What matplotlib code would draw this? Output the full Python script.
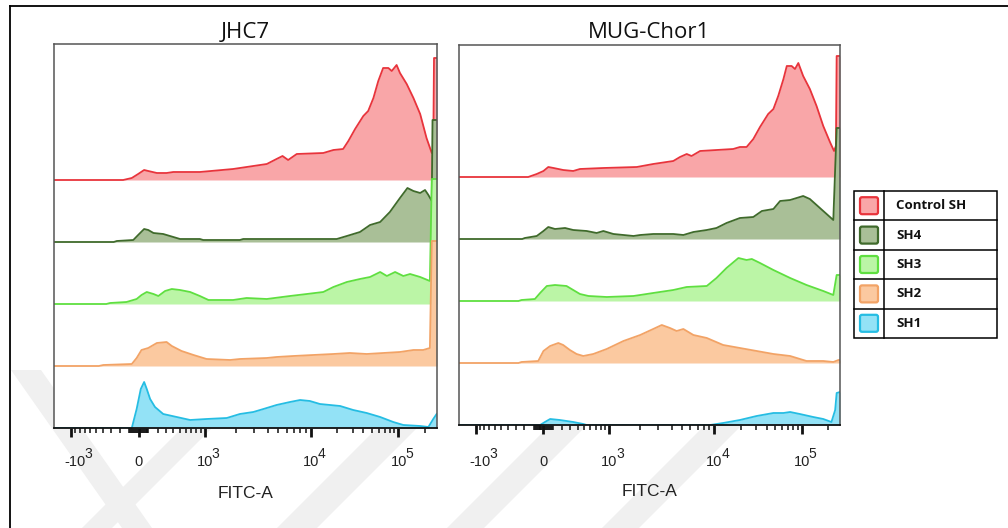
import numpy as np
import matplotlib
matplotlib.use("Agg")
import matplotlib.pyplot as plt
from matplotlib.patches import FancyBboxPatch, Rectangle, Polygon
from matplotlib.lines import Line2D
from matplotlib.transforms import blended_transform_factory, offset_copy

# ---------------- data ----------------
series_names = ["Control SH", "SH4", "SH3", "SH2", "SH1"]
line_colors = ["#e8343c", "#3f6a2b", "#5fdf40", "#f2a366", "#25bde3"]
fill_colors = ["#f9a6a8", "#a9bf97", "#bbf5a6", "#fbc9a0", "#93e2f6"]

panel_titles = ["JHC7", "MUG-Chor1"]
x_label = "FITC-A"

# FITC-A axis: tick values and labels (base, exponent) on display channel 0-1024
major_tick_values = [-1e3, 0, 1e3, 1e4, 1e5]
major_tick_bases = ["-10", "0", "10", "10", "10"]
major_tick_exps = ["3", "", "3", "4", "5"]
minor_tick_values = ([-v for v in range(200, 1000, 100)] + [-v for v in range(10, 101, 10)]
                     + list(range(10, 101, 10)) + list(range(200, 1000, 100))
                     + list(range(2000, 10000, 1000)) + list(range(20000, 100000, 10000))
                     + [200000])
# display scale anchors (value -> channel)
scale_values = [-1e4, -1e3, 0, 1e3, 1e4, 1e5, 1e6]
scale_channels = [-250, 45, 227, 403, 686, 921, 1156]

# JHC7 histograms (channel, count)
jhc7_ch = [
    [0, 185, 208, 225, 241, 252, 275, 301, 319, 390, 479, 533, 569, 595, 611, 626, 649, 720, 747, 773,
     787, 805, 827, 840, 854, 867, 880, 894, 903, 916, 925, 943, 961, 979, 996, 1010, 1014, 1016, 1024],
    [0, 160, 168, 212, 225, 241, 252, 266, 292, 319, 337, 390, 399, 497, 506, 756, 783, 818, 845, 872,
     898, 925, 945, 961, 979, 992, 1001, 1010, 1012, 1024],
    [0, 140, 150, 194, 221, 234, 248, 266, 279, 297, 315, 337, 364, 390, 413, 479, 515, 569, 631, 676,
     720, 747, 783, 818, 845, 872, 890, 912, 934, 952, 979, 1005, 1010, 1024],
    [0, 120, 132, 208, 221, 234, 252, 275, 301, 315, 341, 373, 408, 471, 497, 569, 595, 640, 693, 747,
     791, 836, 925, 961, 987, 1005, 1010, 1024],
    [0, 208, 221, 232, 241, 248, 257, 270, 292, 328, 364, 408, 462, 497, 533, 560, 595, 631, 658, 684,
     711, 738, 765, 800, 836, 872, 907, 934, 979, 1001, 1014, 1023],
]
jhc7_ct = [
    [0, 0, 2, 6, 10, 9, 7, 7, 8, 8, 11, 14, 16, 21, 24, 20, 26, 27, 30, 31,
     39, 51, 64, 69, 82, 99, 112, 112, 109, 115, 107, 96, 82, 66, 42, 27, 32, 122, 122],
    [0, 0, 1, 2, 7, 13, 12, 9, 8, 5, 3, 3, 2, 2, 3, 3, 6, 10, 17, 20,
     30, 44, 54, 51, 49, 52, 47, 41, 122, 122],
    [0, 0, 1, 2, 5, 9, 12, 10, 8, 13, 15, 14, 12, 8, 4, 4, 6, 5, 8, 10,
     12, 17, 22, 25, 27, 32, 28, 32, 28, 30, 27, 23, 125, 125],
    [0, 0, 1, 2, 8, 16, 18, 23, 24, 20, 15, 11, 7, 6, 7, 8, 9, 10, 11, 12,
     13, 12, 14, 16, 16, 18, 125, 125],
    [0, 0, 19, 39, 46, 39, 29, 21, 14, 11, 8, 9, 10, 14, 16, 19, 23, 26, 28, 27,
     24, 23, 22, 18, 15, 11, 6, 3, 2, 1, 9, 14],
]

# MUG-Chor1 histograms (channel, count)
mug_ch = [
    [0, 186, 209, 227, 240, 254, 280, 307, 325, 388, 478, 522, 576, 594, 612, 625, 648, 737, 755, 773,
     791, 809, 831, 845, 858, 872, 881, 894, 903, 912, 925, 943, 961, 979, 997, 1008, 1013, 1015, 1024],
    [0, 170, 177, 209, 227, 240, 258, 285, 307, 343, 370, 388, 415, 469, 487, 522, 576, 603, 630, 666,
     692, 719, 755, 791, 814, 845, 863, 890, 925, 943, 961, 979, 997, 1006, 1015, 1024],
    [0, 160, 168, 204, 218, 236, 258, 289, 307, 325, 348, 397, 469, 487, 522, 576, 612, 666, 692, 719,
     751, 773, 787, 809, 845, 890, 934, 979, 1006, 1015, 1024],
    [0, 160, 168, 213, 227, 245, 267, 280, 298, 316, 334, 361, 397, 442, 487, 522, 545, 567, 585, 603,
     630, 666, 710, 755, 800, 845, 890, 934, 979, 1006, 1020, 1024],
    [0, 218, 231, 245, 271, 307, 334, 343, 675, 710, 755, 800, 845, 872, 890, 916, 952, 979, 1001, 1011,
     1015, 1024],
]
mug_ct = [
    [0, 0, 3, 6, 10, 9, 7, 6, 8, 9, 10, 13, 16, 20, 23, 21, 26, 28, 30, 30,
     38, 50, 63, 68, 81, 98, 111, 111, 108, 114, 101, 88, 71, 51, 35, 26, 31, 121, 121],
    [0, 0, 1, 3, 8, 12, 10, 11, 9, 8, 6, 8, 5, 3, 4, 5, 5, 4, 7, 9,
     11, 16, 21, 22, 28, 30, 38, 39, 43, 40, 34, 28, 22, 19, 111, 111],
    [0, 0, 1, 2, 8, 15, 16, 15, 11, 7, 5, 4, 5, 6, 8, 11, 14, 15, 23, 33,
     43, 41, 42, 38, 31, 23, 16, 10, 6, 26, 26],
    [0, 0, 1, 2, 12, 17, 20, 18, 13, 9, 7, 9, 14, 22, 28, 34, 38, 35, 32, 34,
     28, 25, 18, 15, 12, 9, 7, 2, 2, 1, 3, 3],
    [0, 0, 3, 6, 5, 3, 1, 0, 0, 2, 5, 9, 12, 12, 13, 11, 8, 6, 3, 15,
     32, 33],
]

# ---------------- helpers ----------------
W = 438.0
U_anchor = np.arcsinh(np.array(scale_values) / W)


def to_channel(v):
    return np.interp(np.arcsinh(np.asarray(v, dtype=float) / W), U_anchor, scale_channels)


plt.rcParams["font.family"] = ["Liberation Sans", "DejaVu Sans"]

FW, FH = 1008, 528
fig = plt.figure(figsize=(FW / 100, FH / 100), dpi=100)
fig.patch.set_facecolor("white")


def fx(px):
    return px / FW


def fy(py):
    return 1 - py / FH


# faint background watermark bands (behind the chart)
wm_bands = [
    [(11, 370), (41, 370), (152, 528), (122, 528)],
    [(82, 528), (112, 528), (212, 428), (182, 428)],
    [(277, 528), (317, 528), (417, 428), (377, 428)],
    [(447, 528), (484, 528), (587, 425), (550, 425)],
    [(602, 528), (639, 528), (742, 425), (705, 425)],
]
for band in wm_bands:
    fig.add_artist(Polygon([(fx(a), fy(b)) for a, b in band], closed=True,
                           transform=fig.transFigure, fc="#f0f0f0", ec="none", zorder=-5))

panel_boxes = [(54, 44, 437, 428), (459, 45, 840, 425)]
label_y = [462, 462]
xlabel_y = [494, 492]
row_step = 62
panel_data = [(jhc7_ch, jhc7_ct), (mug_ch, mug_ct)]
tick_fs = 10.5

for p, (box, (chs, cts), title) in enumerate(zip(panel_boxes, panel_data, panel_titles)):
    x0, y0, x1, y1 = box
    ax = fig.add_axes([fx(x0), fy(y1), fx(x1 - x0), (y1 - y0) / FH])
    ax.set_facecolor("white")
    ax.set_xlim(0, 1024)
    ax.set_ylim(0, (y1 - y0))
    n = len(series_names)
    for i in range(n):
        off = (n - 1 - i) * row_step
        ch = np.array(chs[i], dtype=float)
        ct = np.array(cts[i], dtype=float)
        z = 2 + i * 2
        ax.fill_between(ch, off, off + ct, color=fill_colors[i], lw=0, zorder=z)
        ax.plot(ch, off + ct, color=line_colors[i], lw=1.3, zorder=z + 1,
                solid_joinstyle="round")
    for s in ["top", "left", "right"]:
        ax.spines[s].set_color("#555555")
        ax.spines[s].set_linewidth(1.1)
    ax.spines["bottom"].set_color("#111111")
    ax.spines["bottom"].set_linewidth(1.3)
    for s in ax.spines.values():
        s.set_zorder(20)
    ax.set_yticks([])
    major_ch = to_channel(major_tick_values)
    ax.set_xticks(major_ch)
    ax.set_xticklabels([])
    ax.set_xticks(to_channel(minor_tick_values), minor=True)
    ax.tick_params(axis="x", which="major", direction="out", length=6.5, width=2.0,
                   color="#111111")
    ax.tick_params(axis="x", which="minor", direction="out", length=3.4, width=1.1,
                   color="#111111")

    # tick labels: base + raised exponent
    trans = blended_transform_factory(ax.transData, fig.transFigure)
    for c, base, ex in zip(major_ch, major_tick_bases, major_tick_exps):
        if ex == "":
            fig.text(c, fy(label_y[p]), base, transform=trans, ha="center", va="center",
                     fontsize=tick_fs, color="#222222")
            continue
        joint = 15 if base.startswith("-") else 8.5
        t1 = offset_copy(trans, fig=fig, x=joint, y=0, units="dots")
        t2 = offset_copy(trans, fig=fig, x=joint - 1.5, y=8, units="dots")
        fig.text(c, fy(label_y[p]), base, transform=t1, ha="right", va="center",
                 fontsize=tick_fs, color="#222222")
        fig.text(c, fy(label_y[p]), ex, transform=t2, ha="left", va="center",
                 fontsize=tick_fs - 0.5, color="#222222")

    fig.text(fx((x0 + x1) / 2), fy(xlabel_y[p]), x_label, ha="center", va="center",
             fontsize=12.5, color="#222222")
    fig.text(fx((x0 + x1) / 2), fy(33), title, ha="center", va="center",
             fontsize=16, family="Open Sans", color="#111111")

# ---------------- legend table ----------------
lx0, ly0, lx1, ly1 = 854, 191, 997, 338
lax = fig.add_axes([fx(lx0), fy(ly1), fx(lx1 - lx0), (ly1 - ly0) / FH])
lax.set_xlim(0, lx1 - lx0)
lax.set_ylim(ly1 - ly0, 0)
lax.axis("off")
rh = (ly1 - ly0) / len(series_names)
lw_tab = 1.1
lax.add_patch(Rectangle((0, 0), lx1 - lx0, ly1 - ly0, fill=False, ec="black", lw=lw_tab,
                        clip_on=False))
lax.plot([30, 30], [0, ly1 - ly0], color="black", lw=lw_tab, clip_on=False)
for k in range(1, len(series_names)):
    lax.plot([0, lx1 - lx0], [k * rh, k * rh], color="black", lw=lw_tab, clip_on=False)
for k, name in enumerate(series_names):
    cy = (k + 0.5) * rh
    lax.add_patch(FancyBboxPatch((15 - 9, cy - 8.5), 18, 17,
                                 boxstyle="round,pad=0,rounding_size=2",
                                 fc=fill_colors[k], ec=line_colors[k], lw=1.6))
    lax.text(42, cy, name, ha="left", va="center", fontsize=9.5, fontweight="bold",
             family="Open Sans", color="#111111")

# ---------------- outer frame ----------------
fig.add_artist(Line2D([fx(10), 1], [fy(6), fy(6)], color="black", lw=1.3))
fig.add_artist(Line2D([fx(10), fx(10)], [0, fy(6)], color="black", lw=1.3))

fig.savefig("out.png", dpi=100, facecolor="white")
